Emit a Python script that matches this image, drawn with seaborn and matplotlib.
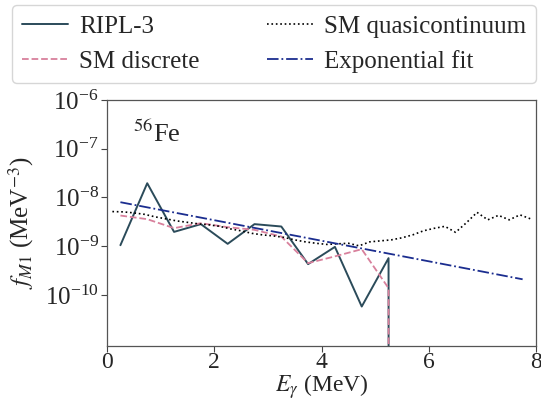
import numpy as np
import pandas as pd
import matplotlib
matplotlib.use("Agg")
import matplotlib.pyplot as plt
import seaborn as sns

# Gamma energies of the 0.5 MeV bins (MeV)
bin_energy = [0.25, 0.75, 1.25, 1.75, 2.25, 2.75, 3.25, 3.75, 4.25, 4.75, 5.25, 5.75]

# RIPL-3 M1 strength (MeV^-3); strength vanishes above 5.25 MeV
ripl3 = [1.05e-9, 1.96e-8, 1.97e-9, 2.84e-9, 1.12e-9, 2.84e-9,
         2.54e-9, 4.3e-10, 9.7e-10, 5.8e-11, 5.7e-10, 0.0]

# Shell-model discrete-level strength (MeV^-3)
sm_discrete = [4.26e-9, 3.59e-9, 2.35e-9, 2.97e-9, 2.46e-9, 2.17e-9,
               1.58e-9, 4.5e-10, 6.2e-10, 8.7e-10, 1.38e-10, 0.0]

# Shell-model quasicontinuum strength on a 0.2 MeV grid
qc_energy = [0.1, 0.3, 0.5, 0.7, 0.9, 1.1, 1.3, 1.5, 1.7, 1.9,
             2.1, 2.3, 2.5, 2.7, 2.9, 3.1, 3.3, 3.5, 3.7, 3.9,
             4.1, 4.3, 4.5, 4.7, 4.9, 5.1, 5.3, 5.5, 5.7, 5.9,
             6.1, 6.3, 6.5, 6.7, 6.9, 7.1, 7.3, 7.5, 7.7, 7.9]
sm_quasicontinuum = [5.14e-9, 5.07e-9, 4.83e-9, 4.51e-9, 4.00e-9, 3.64e-9,
                     3.31e-9, 3.09e-9, 2.88e-9, 2.75e-9, 2.56e-9, 2.27e-9,
                     2.07e-9, 1.84e-9, 1.71e-9, 1.63e-9, 1.52e-9, 1.35e-9,
                     1.23e-9, 1.15e-9, 1.09e-9, 1.12e-9, 1.15e-9, 1.02e-9,
                     1.23e-9, 1.29e-9, 1.35e-9, 1.49e-9, 1.71e-9, 2.07e-9,
                     2.33e-9, 2.56e-9, 1.93e-9, 3.02e-9, 4.95e-9, 3.48e-9,
                     4.30e-9, 3.48e-9, 4.40e-9, 3.64e-9]

# Exponential fit, evaluated at the ends of its range
fit_energy = [0.25, 7.75]
fit_strength = [8.0e-9, 2.1e-10]

x_ticks = [0, 2, 4, 6, 8]
y_ticks = [1e-10, 1e-9, 1e-8, 1e-7, 1e-6]

sns.set_theme(style="ticks")
plt.rcParams["font.family"] = ["Liberation Serif", "DejaVu Serif"]
plt.rcParams["mathtext.fontset"] = "stix"
plt.rcParams["font.size"] = 18

fig = plt.figure(figsize=(5.41, 4.01), dpi=100)
ax = fig.add_axes([0.1978, 0.1372, 0.793, 0.6135])

bins = pd.DataFrame({"E": bin_energy, "ripl": ripl3, "disc": sm_discrete})
qc = pd.DataFrame({"E": qc_energy, "f": sm_quasicontinuum})
fit = pd.DataFrame({"E": fit_energy, "f": fit_strength})

sns.lineplot(data=bins, x="E", y="ripl", ax=ax, color="#2b4b5a", lw=1.4,
             estimator=None, sort=False, label="RIPL-3")
sns.lineplot(data=bins, x="E", y="disc", ax=ax, color="#d8809c", lw=1.3,
             linestyle="--", estimator=None, sort=False, label="SM discrete")
sns.lineplot(data=qc, x="E", y="f", ax=ax, color="black", lw=1.2,
             linestyle=":", estimator=None, sort=False, label="SM quasicontinuum")
sns.lineplot(data=fit, x="E", y="f", ax=ax, color="#1b2d8f", lw=1.3,
             linestyle="-.", estimator=None, sort=False, label="Exponential fit")

ax.set_yscale("log")
ax.set_xlim(0, 8)
ax.set_ylim(9e-12, 1e-6)
ax.set_xticks(x_ticks)
ax.set_yticks(y_ticks)
ax.yaxis.set_minor_locator(matplotlib.ticker.NullLocator())
ax.tick_params(labelsize=18, length=4, width=0.8, color="#444444", pad=2)
ax.tick_params(axis="x", labelsize=17, pad=0)
for sp in ax.spines.values():
    sp.set_color("#555555")
    sp.set_linewidth(0.9)

ax.set_xlabel(r"$E_\gamma$ (MeV)", fontsize=17, labelpad=0)
ax.set_ylabel(r"$f_{M1}$ (MeV$^{-3}$)", fontsize=18, labelpad=6)

ax.text(0.06, 0.83, r"$^{56}$Fe", transform=ax.transAxes, fontsize=19,
        ha="left", va="baseline")

ax.get_legend().remove()
handles, labels = ax.get_legend_handles_labels()
fig.legend(handles, labels, ncol=2, loc="upper left",
           bbox_to_anchor=(0.022, 0.7955, 0.969, 0.192),
           bbox_transform=fig.transFigure, mode="expand",
           fontsize=18, frameon=True, fancybox=True, edgecolor="#cccccc",
           handlelength=1.85, handletextpad=0.45, labelspacing=0.5,
           borderaxespad=0.0, borderpad=0.4)

fig.savefig("out.png", dpi=100)
